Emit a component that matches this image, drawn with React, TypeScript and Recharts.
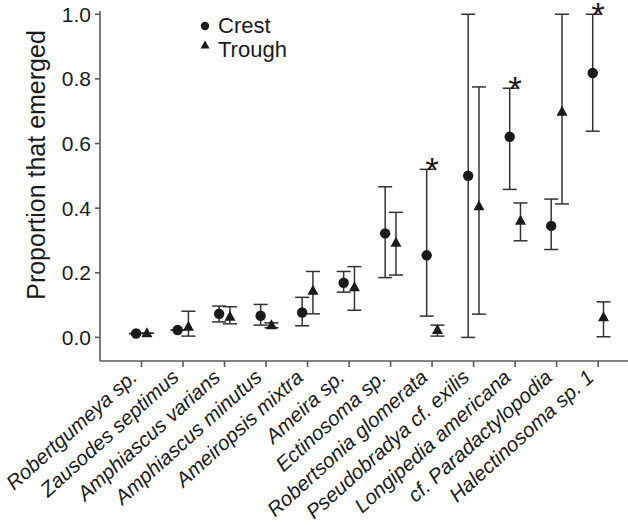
import { ScatterChart, Scatter, XAxis, YAxis, ErrorBar, Legend } from "recharts";

const categories = [
  "Robertgumeya sp.",
  "Zausodes septimus",
  "Amphiascus varians",
  "Amphiascus minutus",
  "Ameiropsis mixtra",
  "Ameira sp.",
  "Ectinosoma sp.",
  "Robertsonia glomerata",
  "Pseudobradya cf. exilis",
  "Longipedia americana",
  "cf. Paradactylopodia",
  "Halectinosoma sp. 1",
];

const crestMean = [0.012, 0.023, 0.073, 0.067, 0.077, 0.169, 0.322, 0.254, 0.5, 0.621, 0.345, 0.818];
const crestLow = [0.012, 0.023, 0.048, 0.038, 0.036, 0.14, 0.185, 0.066, 0.0, 0.458, 0.272, 0.638];
const crestHigh = [0.012, 0.023, 0.097, 0.102, 0.124, 0.204, 0.466, 0.52, 1.0, 0.771, 0.428, 1.0];

const troughMean = [0.013, 0.033, 0.064, 0.038, 0.144, 0.155, 0.293, 0.023, 0.406, 0.361, 0.698, 0.062];
const troughLow = [0.013, 0.004, 0.042, 0.03, 0.073, 0.084, 0.193, 0.004, 0.072, 0.299, 0.413, 0.002];
const troughHigh = [0.013, 0.081, 0.095, 0.045, 0.204, 0.219, 0.387, 0.038, 0.775, 0.416, 1.0, 0.11];

// categories marked significant (asterisk above the crest bar)
const sigIndex = [7, 9, 11];

const yTicks = [0, 0.2, 0.4, 0.6, 0.8, 1.0];

const FONT = '"Liberation Sans", Arial, Helvetica, sans-serif';
const INK = "#1a1a1a";
const AXIS = "#5a5a5a";

const crestData = categories.map((name, i) => ({
  name,
  x: i - 0.13,
  y: crestMean[i],
  err: [crestMean[i] - crestLow[i], crestHigh[i] - crestMean[i]],
}));

const troughData = categories.map((name, i) => ({
  name,
  x: i + 0.13,
  y: troughMean[i],
  err: [troughMean[i] - troughLow[i], troughHigh[i] - troughMean[i]],
}));

const sigData = sigIndex.map((i) => ({ x: i, y: crestHigh[i] }));

const CircleDot = (props: any) => <circle cx={props.cx} cy={props.cy} r={5.2} fill={INK} />;

const TriangleDot = (props: any) => {
  const { cx, cy } = props;
  return <polygon points={`${cx},${cy - 6} ${cx - 5.5},${cy + 4} ${cx + 5.5},${cy + 4}`} fill={INK} />;
};

const Star = (props: any) => (
  <text x={props.cx} y={props.cy + 13} textAnchor="middle" fontSize={35} fontFamily={FONT} fill={INK}>
    *
  </text>
);

const XTick = (props: any) => {
  const { x, y, payload } = props;
  const tx = x - 3;
  const ty = y + 10;
  return (
    <text
      x={tx}
      y={ty}
      transform={`rotate(-42, ${tx}, ${ty})`}
      textAnchor="end"
      fontStyle="italic"
      fontSize={20.5}
      fontFamily={FONT}
      fill={INK}
    >
      {categories[payload.value]}
    </text>
  );
};

const YLabel = (props: any) => {
  const vb = props.viewBox || { x: 0, y: 11 };
  const x = vb.x + 36;
  const y = vb.y + 154;
  return (
    <text
      x={x}
      y={y}
      transform={`rotate(-90, ${x}, ${y})`}
      textAnchor="middle"
      dominantBaseline="central"
      fontSize={25}
      fontFamily={FONT}
      fill={INK}
    >
      Proportion that emerged
    </text>
  );
};

const LegendBox = (props: any) => {
  const items = (props.payload || []).filter((p: any) => p.value === "Crest" || p.value === "Trough");
  return (
    <div style={{ fontFamily: FONT, fontSize: 22, color: INK, lineHeight: "24px" }}>
      {items.map((p: any) => (
        <div key={p.value} style={{ display: "flex", alignItems: p.value === "Crest" ? "center" : "flex-start" }}>
          <svg width={10} height={10} style={{ marginRight: 8, marginTop: p.value === "Crest" ? 0 : 2 }}>
            {p.value === "Crest" ? (
              <circle cx={5} cy={5} r={4.2} fill={INK} />
            ) : (
              <polygon points="5,0.5 0.5,8.5 9.5,8.5" fill={INK} />
            )}
          </svg>
          <span>{p.value}</span>
        </div>
      ))}
    </div>
  );
};

export default function App() {
  return (
    <div style={{ position: "absolute", left: 0, top: 0, width: 628, height: 525, background: "#fff" }}>
      <ScatterChart width={628} height={525} margin={{ top: 11, right: 0, bottom: 0, left: 0 }}>
        <XAxis
          type="number"
          dataKey="x"
          domain={[-1, 11.72]}
          ticks={categories.map((_, i) => i)}
          interval={0}
          height={164}
          tick={<XTick />}
          tickSize={6}
          tickMargin={2}
          stroke={AXIS}
          strokeWidth={1.6}
        />
        <YAxis
          type="number"
          dataKey="y"
          domain={[-0.073, 1.01]}
          ticks={yTicks}
          width={100}
          tickSize={5}
          tickMargin={4}
          tickFormatter={(v: number) => v.toFixed(1)}
          tick={{ fontSize: 21, fill: INK, fontFamily: FONT }}
          stroke={AXIS}
          strokeWidth={1.6}
          label={<YLabel />}
        />
        <Legend
          layout="vertical"
          align="center"
          verticalAlign="middle"
          content={<LegendBox />}
          wrapperStyle={{ top: 14, left: 200, width: 120 }}
        />
        <Scatter name="Crest" data={crestData} fill={INK} shape={<CircleDot />} isAnimationActive={false}>
          <ErrorBar dataKey="err" direction="y" width={7} stroke="#333" strokeWidth={1.5} />
        </Scatter>
        <Scatter name="Trough" data={troughData} fill={INK} shape={<TriangleDot />} isAnimationActive={false}>
          <ErrorBar dataKey="err" direction="y" width={7} stroke="#333" strokeWidth={1.5} />
        </Scatter>
        <Scatter name="sig" data={sigData} legendType="none" shape={<Star />} isAnimationActive={false} />
      </ScatterChart>
    </div>
  );
}
